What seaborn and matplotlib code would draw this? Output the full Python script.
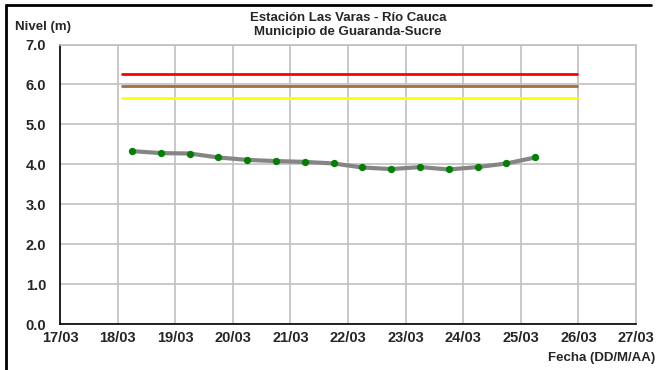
import matplotlib
matplotlib.use("Agg")
import matplotlib.pyplot as plt
import matplotlib.dates as mdates
from matplotlib.lines import Line2D
import pandas as pd
import seaborn as sns

# nivel observado cada 12 h
fechas = ['2011-03-18 06:00', '2011-03-18 18:00', '2011-03-19 06:00', '2011-03-19 18:00',
          '2011-03-20 06:00', '2011-03-20 18:00', '2011-03-21 06:00', '2011-03-21 18:00',
          '2011-03-22 06:00', '2011-03-22 18:00', '2011-03-23 06:00', '2011-03-23 18:00',
          '2011-03-24 06:00', '2011-03-24 18:00', '2011-03-25 06:00']
nivel = [4.33, 4.28, 4.27, 4.17, 4.11, 4.08, 4.06, 4.02,
         3.92, 3.88, 3.93, 3.87, 3.93, 4.02, 4.17]

# umbrales
umbral_ini = '2011-03-18 02:00'
umbral_fin = '2011-03-25 23:30'
umbral_rojo = 6.25
umbral_naranja = 5.95
umbral_amarillo = 5.65

titulo1 = 'Estación Las Varas - Río Cauca'
titulo2 = 'Municipio de Guaranda-Sucre'

sns.set_style('white')
plt.rcParams['font.family'] = ['Liberation Sans', 'DejaVu Sans']

df = pd.DataFrame({'fecha': pd.to_datetime(fechas), 'nivel': nivel})
df_umb = pd.DataFrame({
    'fecha': pd.to_datetime([umbral_ini, umbral_fin] * 3),
    'nivel': [umbral_rojo] * 2 + [umbral_naranja] * 2 + [umbral_amarillo] * 2,
    'tipo': ['rojo'] * 2 + ['naranja'] * 2 + ['amarillo'] * 2,
})

fig = plt.figure(figsize=(6.6, 3.7), dpi=100)
ax = fig.add_axes([60 / 660, 1 - 324 / 370, 576 / 660, 279.5 / 370])

sns.lineplot(data=df_umb, x='fecha', y='nivel', hue='tipo',
             palette={'rojo': '#ff0000', 'naranja': '#a0703a', 'amarillo': '#ffff00'},
             linewidth=2, legend=False, ax=ax)
sns.lineplot(data=df, x='fecha', y='nivel', color='#858585', linewidth=3,
             marker='o', markersize=4.5, markerfacecolor='#008000',
             markeredgecolor='#008000', ax=ax)

ax.set_xlim(pd.Timestamp('2011-03-17'), pd.Timestamp('2011-03-27'))
ax.set_ylim(0, 7)
ax.xaxis.set_major_locator(mdates.DayLocator())
ax.xaxis.set_major_formatter(mdates.DateFormatter('%d/%m'))
ax.set_yticks(range(0, 8))
ax.set_yticklabels([f'{v:.1f}' for v in range(0, 8)])
ax.grid(True, color='#c0c0c0', linewidth=1.2)
ax.set_axisbelow(True)
ax.set_xlabel('')
ax.set_ylabel('')
for s in ['top', 'right']:
    ax.spines[s].set_color('#c0c0c0')
    ax.spines[s].set_linewidth(1.2)
for s in ['left', 'bottom']:
    ax.spines[s].set_color('black')
    ax.spines[s].set_linewidth(1.2)
ax.tick_params(axis='both', direction='out', length=4, width=1, color='black',
               labelsize=10.5)
ax.tick_params(axis='x', pad=1)
ax.tick_params(axis='y', pad=6)
for lbl in ax.get_xticklabels() + ax.get_yticklabels():
    lbl.set_fontweight('bold')

fig.text(348 / 660, 1 - 18 / 370, titulo1, ha='center', va='center',
         fontsize=9.5, fontweight='bold')
fig.text(348 / 660, 1 - 32 / 370, titulo2, ha='center', va='center',
         fontsize=9.5, fontweight='bold')
fig.text(15 / 660, 1 - 27 / 370, 'Nivel (m)', ha='left', va='center',
         fontsize=9.5, fontweight='bold')
fig.text(655 / 660, 1 - 358 / 370, 'Fecha (DD/M/AA)', ha='right', va='center',
         fontsize=9.5, fontweight='bold')

# marco
fig.add_artist(Line2D([6 / 660, 651 / 660], [1 - 5 / 370, 1 - 5 / 370],
                      transform=fig.transFigure, color='black', linewidth=2))
fig.add_artist(Line2D([6 / 660, 6 / 660], [1 - 5 / 370, 0],
                      transform=fig.transFigure, color='black', linewidth=2))

fig.savefig('out.png', dpi=100)
